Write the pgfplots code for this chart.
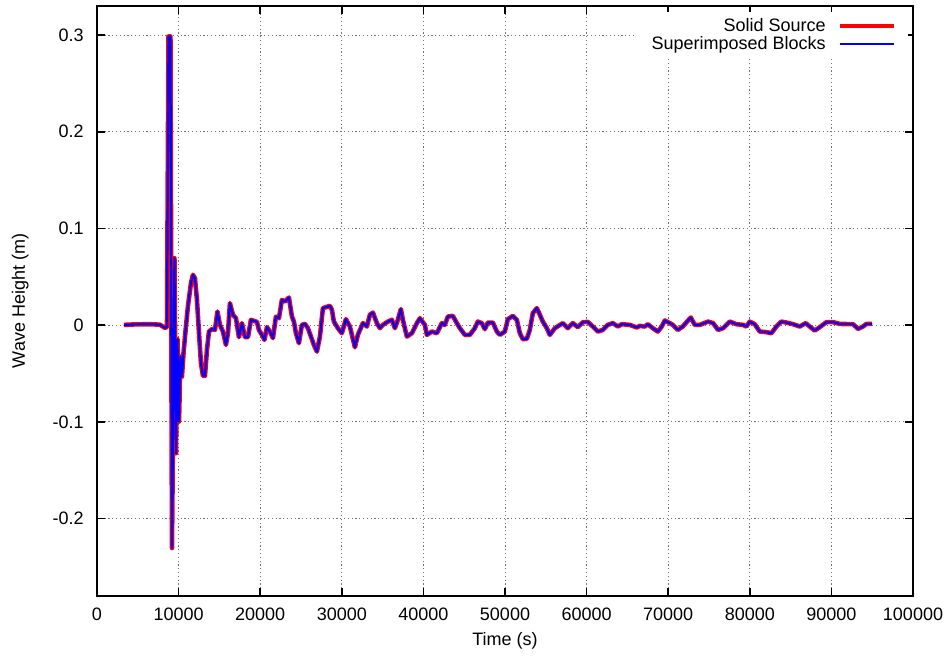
\documentclass[border=0pt]{standalone}
\usepackage{fontspec}
\setmainfont{Liberation Sans}
\usepackage{pgfplots}
\usepackage{pgfplotstable}
\pgfplotsset{compat=1.18}

% wave height record
\pgfplotstableread{
t h
3300 0.0003
4650 0.0008
6500 0.0010
7700 0.0005
8330 -0.0028
8580 -0.0018
8760 0.2985
9000 0.2985
9190 -0.2304
9490 0.0693
9680 -0.1324
9860 -0.0145
10050 -0.0997
10230 -0.0325
10410 -0.0532
10600 -0.0290
10900 -0.0014
11150 0.0200
11515 0.0434
11760 0.0521
12000 0.0486
12250 0.0262
12500 -0.0083
12740 -0.0393
12985 -0.0524
13230 -0.0524
13475 -0.0256
13720 -0.0066
14090 -0.0041
14455 -0.0049
14760 0.0141
15070 0.0003
15435 -0.0066
15800 -0.0204
16050 -0.0083
16290 0.0228
16660 0.0107
17030 0.0072
17395 -0.0124
17760 0.0021
18130 -0.0124
18500 -0.0124
18865 0.0055
19230 0.0044
19600 0.0034
19845 -0.0049
20210 -0.0100
20520 -0.0152
20825 -0.0021
21190 -0.0066
21560 -0.0134
21930 0.0089
22295 0.0072
22660 0.0262
23030 0.0244
23520 0.0286
23890 0.0089
24130 0.0037
24380 -0.0083
24745 -0.0186
25110 0.0003
25480 0.0013
25850 -0.0031
26215 -0.0118
26580 -0.0204
26950 -0.0273
27320 -0.0118
27685 0.0176
28540 0.0200
28790 0.0158
29030 0.0037
29520 -0.0031
30010 -0.0083
30500 0.0062
30990 -0.0014
31605 -0.0228
31970 -0.0100
32585 0.0021
33075 -0.0014
33440 0.0107
33810 0.0130
34300 0.0021
34670 -0.0031
35035 0.0003
35650 0.0037
36140 0.0055
36505 -0.0031
36870 0.0055
37240 0.0166
37485 0.0055
37975 -0.0118
38590 -0.0083
39200 0.0021
39570 0.0072
40180 0.0003
40425 -0.0100
41040 -0.0066
41650 -0.0083
42260 0.0021
42630 0.0003
43000 0.0089
43610 0.0096
44100 0.0021
44470 -0.0031
45080 -0.0100
45690 -0.0100
46300 -0.0031
46670 0.0037
47160 0.0021
47530 -0.0041
47900 0.0027
48510 0.0027
49000 -0.0066
49370 -0.0100
49980 -0.0066
50350 0.0062
50960 0.0096
51450 0.0055
51820 -0.0083
52185 -0.0145
52675 -0.0140
53040 -0.0049
53410 0.0124
53900 0.0176
54268 0.0107
54635 0.0037
55125 -0.0031
55493 -0.0100
56105 -0.0031
57085 0.0021
57698 -0.0031
58310 0.0021
58923 -0.0020
59535 0.0030
60148 0.0034
60760 -0.0014
61373 -0.0066
61985 -0.0049
62598 0.0003
63210 0.0021
63823 -0.0014
64313 0.0010
65293 0.0003
66150 -0.0024
66518 -0.0007
67130 -0.0014
67498 0.0010
68110 -0.0031
68723 -0.0066
69213 -0.0014
69580 0.0048
70193 0.0021
70560 0.0003
71173 -0.0049
71785 -0.0014
72275 0.0034
72765 0.0079
73255 0.0003
73868 0.0003
74888 0.0037
75500 0.0021
76113 -0.0049
76725 -0.0031
77543 0.0037
78360 0.0010
79175 0.0003
79583 -0.0014
79993 0.0037
80605 0.0010
81218 -0.0066
82034 -0.0072
82646 -0.0083
83258 -0.0014
83871 0.0037
84483 0.0027
85300 0.0010
86118 -0.0014
86853 0.0021
87343 -0.0014
87955 -0.0056
88568 -0.0021
89384 0.0031
90201 0.0031
91018 0.0013
92651 0.0010
93263 -0.0038
93876 -0.0014
94284 0.0013
94974 0.0013
}\wavedata

\begin{document}
\fontsize{9}{10.8}\selectfont
\begin{tikzpicture}
\begin{axis}[
    name=ax,
    width=408pt, height=295pt, scale only axis,
    xmin=0, xmax=100000, ymin=-0.28, ymax=0.33,
    scaled x ticks=false, scaled y ticks=false,
    xtick={0,10000,20000,30000,40000,50000,60000,70000,80000,90000,100000},
    xticklabels={0,10000,20000,30000,40000,50000,60000,70000,80000,90000,100000},
    ytick={-0.2,-0.1,0,0.1,0.2,0.3},
    yticklabels={-0.2,-0.1,0,0.1,0.2,0.3},
    /pgf/number format/assume math mode=true,
    tick align=inside, tick pos=both, major tick length=4pt,
    axis line style={line width=0.8pt},
    tick style={black, line width=0.8pt},
    grid=major,
    grid style={black!55, line width=0.5pt, dash pattern=on 0.6pt off 1.3pt},
    xticklabel style={yshift=-3pt},
    yticklabel style={xshift=-3.5pt},
    xlabel={Time (s)}, ylabel={Wave Height (m)},
    every axis x label/.style={at={(axis description cs:0.5,-0.076)},anchor=center},
    every axis y label/.style={at={(axis description cs:-0.094,0.5)},rotate=90,anchor=center},
    legend plot pos=right,
    legend cell align=right,
    legend style={at={(axis description cs:0.994,0.99)}, anchor=north east,
      draw=none, fill=white, inner xsep=6pt, inner ysep=1pt, row sep=-3pt,
      /tikz/every odd column/.append style={column sep=4pt}},
    legend image code/.code={\draw[#1] (0pt,0pt) -- (27pt,0pt);},
]
  \addplot[red, line width=2.3pt, line join=round,
    legend image post style={red, line width=2pt}] table[x=t, y=h] {\wavedata};
  \addlegendentry{Solid Source}
  \addplot[blue, line width=1.1pt, line join=round,
    legend image post style={blue, line width=0.7pt}] table[x=t, y=h] {\wavedata};
  \addlegendentry{Superimposed Blocks}
\end{axis}
\path ([shift={(-48.5pt,-29pt)}]ax.south west) rectangle ([shift={(18.5pt,3pt)}]ax.north east);
\end{tikzpicture}
\end{document}
